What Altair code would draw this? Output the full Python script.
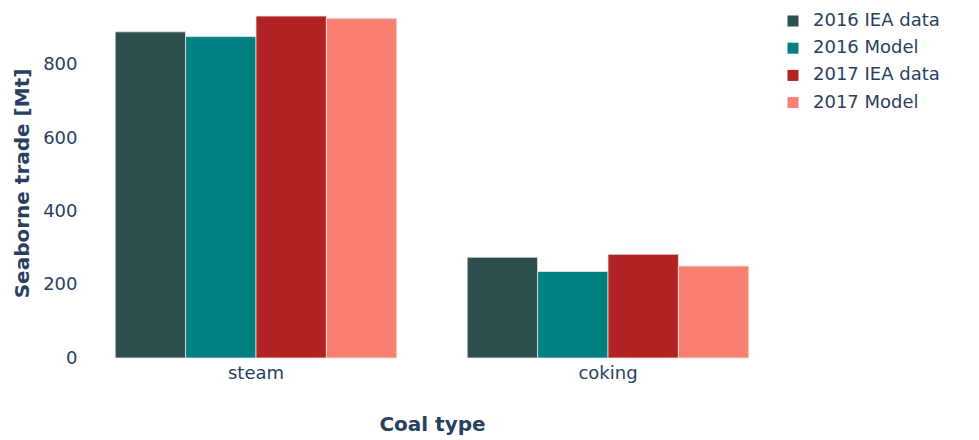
import altair as alt
import pandas as pd

coal_types = ["steam", "coking"]
series = ["2016 IEA data", "2016 Model", "2017 IEA data", "2017 Model"]
colors = ["#2F4F4F", "#008080", "#B22222", "#FA8072"]
values_2016_iea = [890, 275]
values_2016_model = [877, 236]
values_2017_iea = [933, 283]
values_2017_model = [927, 251]

rows = []
for s, vals in zip(series, [values_2016_iea, values_2016_model, values_2017_iea, values_2017_model]):
    for c, v in zip(coal_types, vals):
        rows.append({"Coal type": c, "Series": s, "Value": v})
df = pd.DataFrame(rows)

FONT = "DejaVu Sans"
TXT = "#2a3f5f"

chart = alt.Chart(df).mark_bar(stroke="#e8e8e8", strokeWidth=0.8).encode(
    x=alt.X("Coal type:N", sort=coal_types,
            scale=alt.Scale(paddingInner=0.2, paddingOuter=0.1),
            axis=alt.Axis(title="Coal type", labelAngle=0, ticks=False, domain=False,
                          labelPadding=6, titlePadding=32, labelFontSize=18,
                          titleFontSize=20, titleFontWeight="bold")),
    xOffset=alt.XOffset("Series:N", sort=series,
                        scale=alt.Scale(paddingInner=0, paddingOuter=0)),
    y=alt.Y("Value:Q", scale=alt.Scale(domain=[0, 955], nice=False),
            axis=alt.Axis(title="Seaborne trade [Mt]", values=[0, 200, 400, 600, 800],
                          ticks=False, domain=False, grid=False, labelPadding=3,
                          labelFontSize=18, titleFontSize=20, titleFontWeight="bold",
                          titlePadding=10)),
    color=alt.Color("Series:N", sort=series,
                    scale=alt.Scale(domain=series, range=colors),
                    legend=alt.Legend(title=None, orient="none", legendX=704, legendY=4,
                                      symbolType="square", symbolSize=121,
                                      symbolStrokeWidth=0, labelFontSize=18,
                                      labelOffset=11, rowPadding=9.2, padding=0)),
).properties(
    width=704, height=350,
    autosize=alt.AutoSizeParams(type="none"),
    padding={"left": 72, "top": 0, "right": 185, "bottom": 82},
).configure_view(stroke=None).configure_axis(
    labelFont=FONT, titleFont=FONT, labelColor=TXT, titleColor=TXT, grid=False
).configure_legend(labelFont=FONT, labelColor=TXT)

chart.save("out.html", embed_options={"renderer": "svg", "actions": False})
